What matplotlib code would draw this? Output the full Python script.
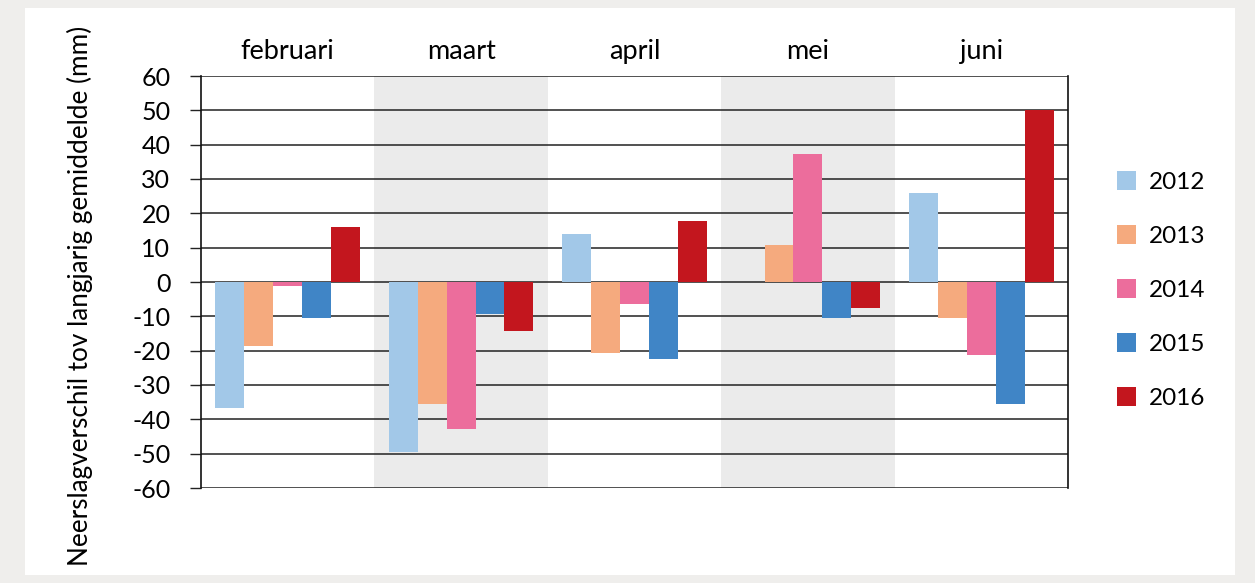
import matplotlib
matplotlib.use("Agg")
import matplotlib.pyplot as plt
from matplotlib.patches import Rectangle, Patch
import numpy as np

plt.rcParams['font.family'] = ['Lato', 'DejaVu Sans']

# maanden en jaren
maanden = ['februari', 'maart', 'april', 'mei', 'juni']
jaren = ['2012', '2013', '2014', '2015', '2016']

# neerslagverschil t.o.v. langjarig gemiddelde (mm)
v2012 = [-36.7, -49.4, 13.9, 0.0, 25.8]
v2013 = [-18.5, -35.6, -20.7, 10.9, -10.4]
v2014 = [-1.2, -42.7, -6.3, 37.2, -21.3]
v2015 = [-10.5, -9.2, -22.5, -10.4, -35.6]
v2016 = [16.0, -14.4, 17.7, -7.5, 50.0]
reeksen = [v2012, v2013, v2014, v2015, v2016]

kleuren = ['#a2c8e8', '#f5aa7e', '#ec6d9c', '#4085c6', '#c3161e']
yticks = list(range(-60, 61, 10))

fig = plt.figure(figsize=(12.55, 5.83), dpi=100, facecolor='#efeeec')
# wit paneel achter alles
fig.patches.append(Rectangle((25 / 1255, 8 / 583), 1210 / 1255, 567 / 583,
                             transform=fig.transFigure, facecolor='white',
                             edgecolor='none', zorder=-10))

ax = fig.add_axes([201 / 1255, 95 / 583, 867 / 1255, 412 / 583])
ax.set_facecolor('white')

x = np.arange(len(maanden))
breedte = 1 / 6

# grijze banden voor maart en mei
for i in range(len(maanden)):
    if i % 2 == 1:
        ax.axvspan(i - 0.5, i + 0.5, color='#ebebeb', zorder=0, lw=0)

for y in yticks:
    ax.axhline(y, color='#222222', lw=1.1, zorder=1)

for j, (waarden, kleur) in enumerate(zip(reeksen, kleuren)):
    ax.bar(x + (j - 2) * breedte, waarden, width=breedte, color=kleur,
           zorder=2, lw=0)

ax.set_xlim(-0.5, len(maanden) - 0.5)
ax.set_ylim(-60, 60)
ax.set_yticks(yticks)
ax.set_yticklabels([str(t) for t in yticks], fontsize=18)
ax.set_xticks([])
ax.tick_params(axis='y', length=8, width=1, color='#222222', pad=14)

for s in ['left', 'right']:
    ax.spines[s].set_color('#111111')
    ax.spines[s].set_linewidth(1.2)
for s in ['top', 'bottom']:
    ax.spines[s].set_visible(False)

for i, m in enumerate(maanden):
    ax.text(i, 1.03, m, transform=ax.get_xaxis_transform(), ha='center',
            va='bottom', fontsize=19.5)

fig.text(80 / 1255, 287 / 583, 'Neerslagverschil tov langjarig gemiddelde (mm)',
         rotation=90, ha='center', va='center', fontsize=18.8)

handles = [Patch(facecolor=k, edgecolor='none') for k in kleuren]
fig.legend(handles, jaren, loc='center left', bbox_to_anchor=(1095 / 1255, 293 / 583),
           frameon=False, fontsize=17.5, labelspacing=1.33, handlelength=0.8,
           handleheight=0.8, handletextpad=0.5)

fig.savefig('out.png', dpi=100, facecolor=fig.get_facecolor())
